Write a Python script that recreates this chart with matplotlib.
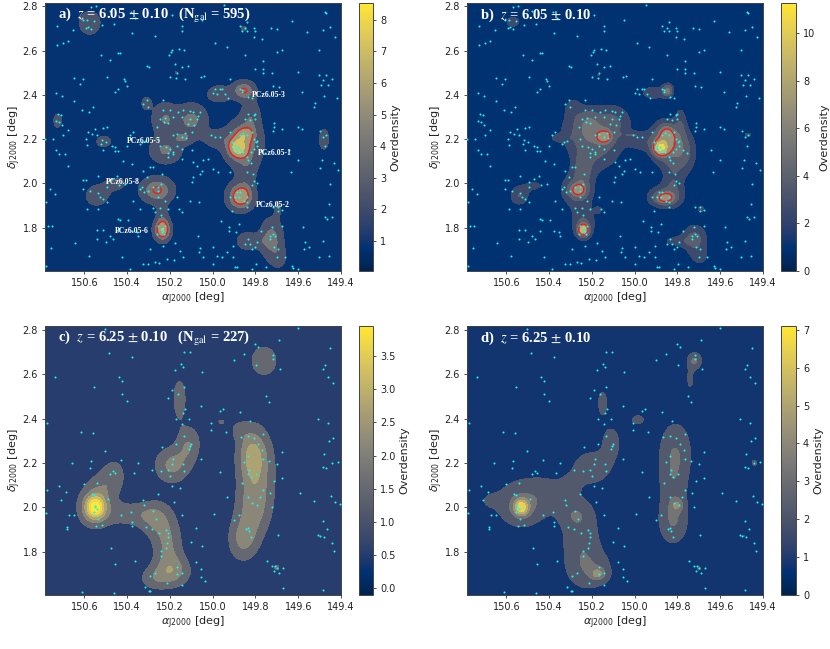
import numpy as np
import matplotlib
matplotlib.use("Agg")
import matplotlib.pyplot as plt
from matplotlib.cm import ScalarMappable
from matplotlib.colors import Normalize

# galaxies, (ra, dec)
gal_z605 = np.array([
    (149.945,2.807),(150.568,2.798),(150.547,2.800),(150.48,2.779),(150.382,2.776),(149.474,2.773),(149.468,2.768),
    (150.362,2.749),(150.19,2.761),(150.051,2.737),(149.63,2.732),(149.697,2.699),(149.727,2.703),(150.73,2.711),
    (150.589,2.737),(150.605,2.74),(150.553,2.734),(150.569,2.699),(150.593,2.703),(150.582,2.706),(150.519,2.717),
    (150.461,2.721),(150.143,2.709),(150.145,2.688),(150.652,2.691),(149.872,2.709),(149.848,2.703),(149.838,2.688),
    (149.861,2.688),(149.84,2.729),(149.802,2.688),(149.806,2.703),(150.376,2.679),(149.56,2.684),(149.485,2.694),
    (149.451,2.706),(149.427,2.661),(149.805,2.661),(149.77,2.654),(150.27,2.664),(150.73,2.624),(150.699,2.636),
    (150.675,2.642),(149.989,2.634),(149.934,2.616),(150.159,2.608),(150.132,2.601),(150.19,2.601),(150.195,2.592),
    (149.502,2.601),(149.7,2.593),(149.677,2.601),
    (150.443,2.589),(150.433,2.589),(150.522,2.578),(150.48,2.559),(150.204,2.578),(149.767,2.551),(149.848,2.578),
    (150.309,2.529),(150.298,2.526),(150.175,2.541),(150.145,2.526),(150.114,2.529),(149.767,2.518),(149.763,2.498),
    (149.8,2.518),(149.724,2.498),(149.6,2.503),(149.468,2.49),(149.505,2.488),(150.165,2.498),(150.199,2.48),
    (150.171,2.476),(150.129,2.47),(150.054,2.48),(150.039,2.483),(149.917,2.473),(150.649,2.477),(150.496,2.479),
    (150.415,2.473),(150.41,2.464),(150.62,2.45),(150.608,2.471),(150.441,2.428),(150.457,2.413),(150.402,2.438),
    (149.443,2.47),(149.482,2.465),(149.494,2.446),(149.463,2.443),(149.688,2.435),(149.719,2.438),(149.583,2.413),
    (150.733,2.408),(150.705,2.393),(149.989,2.428),(149.968,2.428),(149.957,2.426),(149.997,2.408),(149.981,2.405),
    (149.942,2.405),(149.93,2.385),(149.87,2.428),(149.861,2.42),(149.864,2.413),(149.833,2.39),(149.817,2.387),
    (149.479,2.394),(149.42,2.385),(150.649,2.372),(150.309,2.379),(150.327,2.361),(150.301,2.345),(150.231,2.375),
    (149.527,2.345),(149.521,2.364),
    (150.558,2.345),(150.613,2.33),(150.577,2.322),(150.231,2.33),(150.199,2.33),(150.164,2.322),(150.137,2.33),
    (150.106,2.327),(150.093,2.322),(150.07,2.303),(150.059,2.322),(150.722,2.312),(150.71,2.307),(150.733,2.281),
    (150.72,2.277),(150.706,2.262),(150.223,2.297),(150.226,2.277),(150.246,2.292),(150.207,2.272),(150.184,2.299),
    (150.145,2.299),(150.106,2.292),(150.114,2.269),(150.086,2.266),(150.075,2.292),(149.833,2.312),(149.825,2.287),
    (149.809,2.307),(149.802,2.292),(149.802,2.312),(149.848,2.292),(149.713,2.275),(149.713,2.254),(149.677,2.247),
    (149.602,2.257),(149.583,2.247),(149.718,2.239),(150.493,2.257),(150.511,2.251),(150.55,2.247),(150.582,2.232),
    (150.566,2.224),(150.542,2.217),(150.593,2.202),(150.675,2.242),(150.702,2.217),(150.746,2.202),(150.783,2.202),
    (150.371,2.232),(150.387,2.217),(150.259,2.257),(150.168,2.224),(150.129,2.227),(150.098,2.232),(150.187,2.217),
    (150.145,2.212),(150.125,2.206),(150.009,2.217),(149.989,2.212),(149.966,2.212),(149.919,2.232),(149.872,2.217),
    (149.856,2.227),(149.838,2.217),(149.817,2.232),(149.497,2.239),(149.486,2.212),(149.469,2.217),(149.806,2.202),
    (150.519,2.197),(150.499,2.187),(150.472,2.167),(150.457,2.164),(150.524,2.179),(150.332,2.187),(150.316,2.194),
    (150.34,2.179),(150.402,2.171),(150.733,2.152),(150.69,2.131),(150.717,2.134),(150.675,2.081),(150.589,2.176),
    (150.511,2.149),(150.457,2.146),(150.441,2.146),(150.418,2.101),(150.379,2.089),(150.254,2.202),(150.246,2.167),
    (150.219,2.164),(150.199,2.156),(150.184,2.141),(150.168,2.171),(150.142,2.156),(150.098,2.149),(150.207,2.137),
    (150.184,2.131),(150.145,2.111),(150.207,2.119),(149.911,2.187),(149.895,2.171),(149.89,2.156),(149.88,2.164),
    (149.903,2.156),(149.884,2.141),(149.872,2.152),(149.856,2.141),(149.838,2.119),(149.821,2.141),(149.809,2.156),
    (149.797,2.187),(149.794,2.171),(149.794,2.194),(149.833,2.104),(149.821,2.092),(149.772,2.149),(149.755,2.137),
    (150.043,2.104),(150.023,2.111),(150.09,2.096),(150.075,2.081),(150.293,2.073),(150.277,2.076),(150.324,2.055),
    (150.309,2.028),(150.238,2.043),(149.6,2.104),(149.632,2.051),(149.435,2.092),(149.489,2.107),(149.497,2.069),
    (149.416,2.061),(149.641,2.153),(149.474,2.171),(150.535,2.036),(150.496,2.006),(150.449,2.036),(150.472,2.021),
    (150.605,2.016),(150.593,2.016),(150.09,2.028),(150.098,2.006),(150.059,2.043),(150.051,2.058),(149.997,2.066),
    (149.973,2.051),(149.919,2.051),(149.84,2.051),(149.813,2.043),(149.809,2.013),(149.791,2.001),(149.817,1.991),
    (149.451,1.998),(150.41,1.998),(150.329,1.986),
    (150.574,1.968),(150.608,1.976),(150.738,1.953),(150.761,1.976),(150.777,1.915),(150.535,1.957),(150.527,1.938),
    (150.511,1.93),(150.496,1.915),(150.493,1.983),(150.438,1.991),(150.34,1.976),(150.321,1.961),(150.301,1.968),
    (150.28,1.983),(150.256,1.983),(150.24,1.998),(150.254,1.968),(150.254,1.938),(150.223,1.923),(150.371,1.923),
    (150.34,1.885),(150.28,1.89),(150.589,1.885),(150.538,1.885),(150.168,1.938),(150.106,1.923),(150.062,1.915),
    (149.919,1.938),(149.895,1.938),(149.884,1.961),(149.872,1.961),(149.875,1.938),(149.854,1.923),(149.838,1.938),
    (149.838,1.915),(149.838,1.896),(149.911,1.878),(149.718,1.893),(149.695,1.893),(149.676,1.881),(149.695,1.878),
    (149.458,1.908),(149.467,1.84),(150.159,1.885),(150.145,1.87),(150.246,1.89),(150.243,1.86),(150.268,1.87),
    (150.209,1.887),(149.477,1.85),(149.44,1.847),(150.441,1.84),(150.433,1.835),(150.394,1.835),(150.543,1.79),
    (149.962,1.829),(149.922,1.805),(149.875,1.817),(149.677,1.81),(149.576,1.802),
    (150.769,1.81),(150.753,1.81),(150.511,1.79),(150.48,1.765),(150.441,1.787),(150.379,1.787),(150.355,1.78),
    (150.347,1.765),(150.257,1.81),(150.225,1.81),(150.24,1.795),(150.234,1.787),(150.239,1.78),(150.227,1.772),
    (150.262,1.772),(150.54,1.75),(150.644,1.731),(150.756,1.709),(150.499,1.734),(150.465,1.75),(149.926,1.787),
    (149.89,1.78),(150.07,1.765),(150.176,1.73),(150.23,1.719),(150.293,1.704),(149.836,1.75),(149.848,1.727),
    (149.825,1.727),(149.794,1.735),(149.802,1.712),(149.817,1.704),(149.772,1.787),(149.723,1.802),(149.716,1.772),
    (149.731,1.765),(149.734,1.75),(149.708,1.765),(149.713,1.712),(149.695,1.704),(149.568,1.734),(149.572,1.704),
    (149.551,1.712),(149.482,1.742),(150.059,1.709),(150.062,1.689),(149.981,1.674),(149.957,1.667),(149.931,1.689),
    (149.903,1.667),(150.577,1.674),(150.425,1.667),(150.215,1.659),(150.181,1.655),(150.14,1.667),(150.153,1.697),
    (150.324,1.636),(150.301,1.636),(150.27,1.644),(150.252,1.639),(150.387,1.612),(150.78,1.629),(149.997,1.636),
    (150.043,1.667),(149.895,1.621),(149.888,1.621),(149.75,1.624),(149.817,1.614),(149.63,1.629),(149.625,1.617),
    (149.6,1.614),(149.797,1.636),(149.7,1.67),(149.66,1.667),(149.997,1.715),(149.903,1.719),(149.505,1.667),
    (149.458,1.674),
])

gal_z625 = np.array([
    (150.503,2.803),(149.6,2.81),(149.69,2.755),(149.80,2.735),(149.786,2.722),(149.45,2.716),(150.483,2.695),
    (150.378,2.677),(150.135,2.70),(150.107,2.70),(149.854,2.692),(149.72,2.687),(149.72,2.67),(149.90,2.663),
    (150.148,2.647),(150.14,2.633),(150.174,2.62),(150.052,2.608),(149.797,2.642),(149.683,2.624),(149.477,2.641),
    (149.486,2.624),(149.463,2.587),(149.438,2.561),(150.739,2.585),(150.436,2.585),(150.422,2.57),(150.553,2.541),
    (150.135,2.54),(150.188,2.528),(150.16,2.511),(150.425,2.511),(150.21,2.492),(150.4,2.48),(149.753,2.5),
    (149.737,2.474),(150.054,2.457),(149.953,2.445),(149.965,2.436),(150.13,2.444),(150.14,2.427),(149.87,2.429),
    (150.171,2.40),(150.113,2.40),(149.508,2.40),(150.775,2.38),(150.006,2.379),(149.825,2.39),(149.461,2.382),
    (150.143,2.375),(150.01,2.349),(149.94,2.341),(150.614,2.34),(150.56,2.335),(149.764,2.332),(150.134,2.322),
    (149.868,2.317),(149.835,2.322),(149.807,2.313),(149.438,2.313),(149.457,2.298),(150.171,2.284),(150.102,2.286),
    (150.105,2.278),(150.112,2.263),(150.236,2.272),(149.786,2.286),(149.77,2.259),(150.505,2.253),(149.675,2.248),
    (149.834,2.232),(149.48,2.239),(149.765,2.217),(149.737,2.208),(150.185,2.218),(150.054,2.218),(150.427,2.215),
    (150.57,2.209),(150.347,2.20),(150.656,2.199),(149.854,2.202),(149.698,2.196),(149.413,2.206),(149.442,2.20),
    (150.14,2.194),(150.19,2.193),(150.574,2.176),(149.484,2.182),(149.469,2.177),(150.283,2.17),(150.132,2.165),
    (150.243,2.163),(150.198,2.141),(149.965,2.161),(150.464,2.164),(150.456,2.155),(150.478,2.152),(150.37,2.155),
    (149.831,2.167),(149.797,2.15),(149.834,2.15),(149.823,2.135),(149.676,2.134),(150.21,2.167),(150.541,2.111),
    (149.714,2.117),(149.864,2.111),(150.6,2.104),(150.72,2.098),(150.19,2.098),(150.152,2.086),(150.687,2.069),
    (150.776,2.077),(149.767,2.077),(149.592,2.065),(149.731,2.065),(150.254,2.059),(150.553,2.056),(149.932,2.047),
    (149.834,2.048),(150.563,2.06),(149.449,2.051),(150.488,2.039),(150.325,2.033),(150.711,2.032),(149.527,2.029),
    (149.778,2.045),(149.815,2.021),(149.427,2.024),(150.182,2.024),(149.792,2.012),(149.403,2.015),(150.549,2.008),
    (150.549,2.002),(150.541,1.994),(149.722,2.0),(150.322,2.009),(150.78,1.976),(150.555,1.977),(150.277,1.983),
    (150.428,1.967),(150.383,1.98),(150.672,1.964),(150.647,1.967),(149.993,1.97),(150.143,1.967),(149.875,1.967),
    (150.538,1.949),(150.266,1.949),(150.311,1.913),(150.375,1.934),(149.898,1.941),(150.377,1.916),(150.519,1.922),
    (150.545,1.917),(150.282,1.902),(150.681,1.91),(150.683,1.902),(150.079,1.907),(149.486,1.938),(150.252,1.883),
    (150.218,1.898),(150.208,1.883),(149.464,1.901),(149.846,1.901),(149.834,1.905),(149.828,1.895),(150.21,1.868),
    (149.694,1.874),(149.508,1.874),(149.497,1.871),(149.481,1.865),(149.82,1.865),(150.1,1.846),(150.215,1.838),
    (150.048,1.827),(149.444,1.838),(150.477,1.816),(149.435,1.801),(150.241,1.804),(150.216,1.818),(150.24,1.78),
    (150.364,1.758),(150.079,1.753),(149.747,1.758),(150.456,1.744),(149.723,1.735),(149.708,1.737),(149.672,1.728),
    (150.054,1.722),(149.7,1.725),(149.715,1.714),(149.69,1.705),(150.269,1.702),(150.293,1.69),(150.166,1.732),
    (150.145,1.705),(150.168,1.699),(150.054,1.685),(150.034,1.668),(150.215,1.657),(150.143,1.651),(150.316,1.642),
    (150.3,1.624),(150.294,1.622),(149.67,1.637),(149.483,1.627),(150.611,1.618),(150.463,1.615),
])

# overdensity peaks: ra, dec, width in ra, width in dec, height
blobs_a = [
    (149.885,2.16,.03,.03,4.2),(149.855,2.18,.06,.075,3.0),(149.85,2.222,.03,.024,2.4),(149.98,2.2,.045,.028,1.5),
    (149.84,2.05,.03,.06,1.3),(149.87,1.94,.04,.04,5.0),(149.855,2.42,.035,.028,3.7),(149.97,2.405,.04,.028,1.8),
    (149.82,2.31,.028,.05,1.7),(150.235,1.79,.025,.032,5.4),(150.235,1.86,.02,.04,1.3),(150.26,1.97,.05,.038,3.8),
    (150.14,2.205,.03,.018,2.0),(150.22,2.15,.05,.04,2.6),(150.10,2.285,.05,.05,2.8),(150.225,2.29,.04,.05,2.4),
    (150.725,2.283,.016,.026,1.5),(150.51,2.19,.03,.022,1.4),(150.575,2.725,.034,.036,2.2),(149.855,2.7,.014,.012,1.2),
    (150.31,2.362,.018,.022,1.5),(150.545,1.945,.032,.03,2.2),(150.45,2.0,.036,.024,1.3),(150.5,1.97,.03,.03,.6),
    (149.48,2.2,.019,.04,1.5),(149.695,1.89,.014,.028,1.2),(149.725,1.75,.035,.06,3.0),(149.84,1.74,.035,.028,1.9),
    (149.78,1.74,.03,.02,.8),(149.69,1.665,.025,.035,1.3),(150.17,2.5,.006,.006,1.0),
]
blobs_b = [
    (149.88,2.16,.022,.022,6.5),(149.855,2.19,.05,.06,3.6),(149.85,2.225,.025,.028,2.5),(149.80,2.13,.06,.075,1.6),
    (149.77,2.15,.035,.065,1.3),(149.97,2.19,.045,.03,1.4),(149.785,2.28,.018,.05,1.4),(150.01,2.22,.035,.009,1.1),
    (149.82,2.0,.03,.06,1.4),(149.86,1.935,.03,.018,3.8),(149.86,1.94,.065,.04,2.0),(149.845,2.42,.016,.02,3.5),
    (149.91,2.41,.05,.025,1.6),(150.14,2.21,.024,.02,3.0),(150.18,2.18,.08,.08,2.8),(150.215,2.28,.035,.045,1.8),
    (150.1,2.28,.06,.055,1.9),(150.29,2.34,.03,.04,1.3),(150.35,2.205,.035,.012,1.1),(150.27,2.24,.07,.055,1.2),
    (150.24,2.08,.035,.05,1.2),(150.265,1.97,.028,.022,3.4),(150.27,1.97,.055,.055,2.2),(150.245,2.05,.025,.05,1.3),
    (150.24,1.79,.016,.018,7.0),(150.24,1.82,.04,.055,2.2),(150.17,1.88,.012,.012,1.3),(150.54,1.945,.03,.03,2.2),
    (150.47,1.99,.04,.022,1.2),(149.72,1.75,.04,.045,2.6),(149.81,1.74,.05,.018,1.3),(149.695,1.67,.03,.03,1.3),
    (149.69,1.885,.012,.014,1.4),(150.57,2.73,.03,.022,1.5),(149.47,2.22,.025,.018,1.1),(150.17,2.49,.013,.01,1.1),
]
blobs_c = [
    (150.55,2.0,.035,.04,2.7),(150.55,2.0,.075,.08,1.0),(150.46,2.15,.04,.055,.95),(150.52,2.1,.05,.05,.6),
    (150.38,1.97,.08,.04,.9),(150.27,1.95,.055,.06,1.1),(150.21,1.83,.05,.09,1.35),(150.18,1.71,.06,.05,1.3),
    (150.28,1.68,.05,.04,.9),(150.19,2.19,.06,.06,1.5),(150.11,2.29,.04,.06,1.2),(150.155,2.49,.025,.075,1.1),
    (149.82,2.24,.05,.09,1.7),(149.77,2.18,.06,.12,.8),(149.81,2.0,.06,.1,1.5),(149.86,1.85,.05,.07,1.3),
    (149.88,2.35,.03,.03,.6),(149.76,2.66,.05,.055,1.2),(149.7,1.73,.012,.012,.9),(149.96,2.385,.016,.01,.8),
]
blobs_d = [
    (150.53,2.0,.022,.025,3.3),(150.53,2.0,.05,.045,1.6),(150.52,2.03,.11,.09,1.05),(150.4,2.06,.07,.05,.9),
    (150.68,2.03,.04,.03,.5),(150.3,2.1,.035,.04,.7),(150.25,1.85,.06,.11,1.6),(150.17,1.7,.025,.02,2.0),
    (150.2,1.72,.07,.06,1.3),(150.28,1.97,.05,.04,1.1),(150.2,2.18,.06,.05,1.6),(150.11,2.29,.035,.06,1.15),
    (150.15,2.47,.022,.055,1.0),(149.985,2.395,.03,.02,1.0),(149.81,2.25,.05,.09,1.8),(149.82,2.1,.045,.08,1.2),
    (149.8,2.01,.02,.02,1.5),(149.82,1.94,.045,.07,1.9),(149.72,2.66,.022,.025,2.1),(149.74,2.58,.014,.04,1.0),
    (149.7,1.725,.006,.006,1.5),(149.44,2.2,.01,.01,1.3),(149.49,1.87,.005,.005,.8),
]

levels_a = [0.05, 1.65, 3.25, 4.85, 6.45, 8.05, 8.55]
levels_b = [0, 2, 3.2, 4.6, 6, 8, 10, 11.3]
levels_c = [-0.1, 1.15, 1.85, 2.45, 3.0, 3.5, 3.95]
levels_d = [0, 1.6, 2.8, 3.8, 4.8, 5.8, 7.1]

ticks_a = [1, 2, 3, 4, 5, 6, 7, 8]
ticks_b = [0, 2, 4, 6, 8, 10]
ticks_c = [0.0, 0.5, 1.0, 1.5, 2.0, 2.5, 3.0, 3.5]
ticks_d = [0, 1, 2, 3, 4, 5, 6, 7]

# name, ra, dec
pcz_labels = [
    ("PCz6.05-3", 149.739, 2.399), ("PCz6.05-5", 150.324, 2.194), ("PCz6.05-1", 149.708, 2.137),
    ("PCz6.05-8", 150.421, 2.007), ("PCz6.05-2", 149.72, 1.905), ("PCz6.05-6", 150.379, 1.784),
]

W, H = 830, 649
RA_LIM = (150.784, 149.4)
DEC_LIM = (1.605, 2.817)

ra_grid, dec_grid = np.meshgrid(np.linspace(RA_LIM[1], RA_LIM[0], 500), np.linspace(DEC_LIM[0], DEC_LIM[1], 400))


def density(blobs, base):
    z = np.full(ra_grid.shape, float(base))
    for ra, dec, sr, sd, amp in blobs:
        z += amp * np.exp(-0.5 * ((ra_grid - ra) / sr) ** 2 - 0.5 * ((dec_grid - dec) / sd) ** 2)
    return z


def panel(box, cbox, blobs, base, levels, ticks, gals, title, red=None):
    l, t, r, b = box
    ax = fig.add_axes([l / W, 1 - b / H, (r - l) / W, (b - t) / H])
    cax = fig.add_axes([cbox[0] / W, 1 - b / H, (cbox[1] - cbox[0]) / W, (b - t) / H])
    norm = Normalize(levels[0], levels[-1])
    z = density(blobs, base)
    ax.contourf(ra_grid, dec_grid, z, levels=levels, cmap="cividis", norm=norm, extend="max")
    if red is not None:
        ax.contour(ra_grid, dec_grid, z, levels=[red], colors="#f01c1c", linewidths=1.0)
    ax.scatter(gals[:, 0], gals[:, 1], s=2.2, color="#19f5f0", linewidths=0, zorder=3)
    ax.set_xlim(RA_LIM)
    ax.set_ylim(DEC_LIM)
    ax.set_xticks([150.6, 150.4, 150.2, 150.0, 149.8, 149.6, 149.4])
    ax.set_yticks([1.8, 2.0, 2.2, 2.4, 2.6, 2.8])
    ax.tick_params(labelsize=7, length=2.5, width=0.6, pad=2.5, color="#333333", labelcolor="#222222")
    ax.set_xlabel(r"$\alpha_{\rm J2000}$ [deg]", fontsize=8, color="#222222", labelpad=2)
    ax.set_ylabel(r"$\delta_{\rm J2000}$ [deg]", fontsize=8, color="#222222", labelpad=0)
    for s in ax.spines.values():
        s.set_linewidth(0.7)
        s.set_color("#444444")
    cb = fig.colorbar(ScalarMappable(norm=norm, cmap="cividis"), cax=cax)
    cb.set_ticks(ticks)
    cb.ax.tick_params(labelsize=7, length=2.5, width=0.6, pad=2.5, color="#333333", labelcolor="#222222")
    cb.set_label("Overdensity", fontsize=8, color="#222222", labelpad=3)
    cb.outline.set_linewidth(0.7)
    cb.outline.set_edgecolor("#444444")
    ax.text(0.044, 0.953, title, transform=ax.transAxes, color="white", fontsize=10.5, va="center",
            family="Liberation Serif", fontweight="bold", math_fontfamily="stix", zorder=4)
    return ax


fig = plt.figure(figsize=(W / 100, H / 100), dpi=100)

ax_a = panel((45, 2.5, 341, 271), (359, 373), blobs_a, 0.85, levels_a, ticks_a, gal_z605,
             r"a)  $z$ = 6.05 $\pm$ 0.10   (N$_{\rm gal}$ = 595)", red=4.4)
panel((467, 2.5, 763, 271), (781, 796), blobs_b, 1.0, levels_b, ticks_b, gal_z605,
      r"b)  $z$ = 6.05 $\pm$ 0.10", red=5.6)
panel((45, 326, 341, 595), (359, 373), blobs_c, 0.5, levels_c, ticks_c, gal_z625,
      r"c)  $z$ = 6.25 $\pm$ 0.10   (N$_{\rm gal}$ = 227)")
panel((467, 326, 763, 595), (781, 796), blobs_d, 0.9, levels_d, ticks_d, gal_z625,
      r"d)  $z$ = 6.25 $\pm$ 0.10")

for name, ra, dec in pcz_labels:
    ax_a.text(ra, dec, name, color="white", fontsize=5.6, ha="center", va="center",
              family="Liberation Serif", fontweight="bold", zorder=4)

fig.savefig("out.png", dpi=100)
